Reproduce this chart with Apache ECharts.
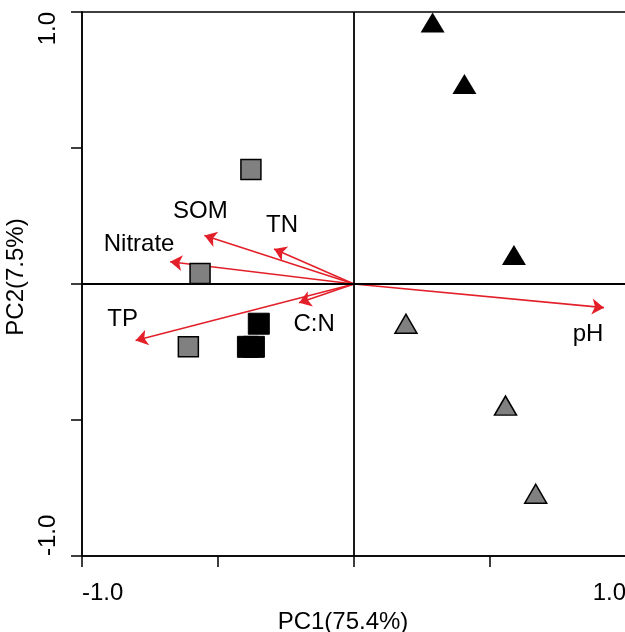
<!DOCTYPE html>
<html>
<head>
<meta charset="utf-8">
<script src="https://cdn.jsdelivr.net/npm/echarts@6/dist/echarts.min.js"></script>
<style>html,body{margin:0;padding:0;background:#fff;}#c{width:625px;height:632px;}</style>
</head>
<body>
<div id="c"></div>
<script>
// ---- data ----
const blackTriangles = [[0.289, 0.961], [0.406, 0.735], [0.588, 0.107]];
const grayTriangles = [[0.191, -0.146], [0.557, -0.447], [0.668, -0.771]];
const graySquares = [[-0.379, 0.421], [-0.566, 0.039], [-0.609, -0.231]];
const blackSquares = [[-0.350, -0.146], [-0.390, -0.231], [-0.368, -0.231]];
const vectorNames = ['pH', 'SOM', 'TN', 'Nitrate', 'C:N', 'TP'];
const vectorPC1 = [0.919, -0.550, -0.294, -0.676, -0.202, -0.803];
const vectorPC2 = [-0.087, 0.178, 0.129, 0.082, -0.069, -0.208];
const xTickLabels = ['-1.0', '1.0'];
const yTickLabels = ['-1.0', '1.0'];
const xTitle = 'PC1(75.4%)';
const yTitle = 'PC2(7.5%)';

// ---- styles ----
const FONT = '"Liberation Sans", Arial, sans-serif';
const RED = '#e3202a';
const TXT = '#000';
const labelOffsets = {pH: [-16, 27], SOM: [-4, -24], TN: [8, -24], Nitrate: [-31, -17], 'C:N': [15, 22], TP: [-13, -21]};

const chart = echarts.init(document.getElementById('c'), null, {renderer: 'canvas'});

function tickFmt(labels) {
  return function (v) {
    const s = v.toFixed(1);
    return labels.indexOf(s) >= 0 ? s : '';
  };
}

const axisCommon = {
  type: 'value', min: -1, max: 1, interval: 0.5,
  axisLine: {show: true, onZero: false, lineStyle: {color: '#000', width: 1.5}},
  axisTick: {show: true, length: 11, inside: false, lineStyle: {color: '#000', width: 1.5}},
  splitLine: {show: false}
};

const vectorLines = vectorNames.map((n, i) => ({name: n, coords: [[0, 0], [vectorPC1[i], vectorPC2[i]]]}));
const vectorTips = vectorNames.map((n, i) => ({
  name: n, value: [vectorPC1[i], vectorPC2[i]],
  label: {offset: labelOffsets[n]}
}));

chart.setOption({
  animation: false,
  backgroundColor: '#fff',
  grid: {left: 82, top: 12, width: 544, height: 544, containLabel: false, outerBoundsMode: 'none',
    show: true, borderColor: '#000', borderWidth: 1.5, backgroundColor: 'transparent'},
  xAxis: Object.assign({}, axisCommon, {
    position: 'bottom',
    name: xTitle, nameLocation: 'middle', nameGap: 44,
    nameTextStyle: {fontFamily: FONT, fontSize: 24, color: TXT, padding: [0, 22, 0, 0]},
    axisLabel: {formatter: tickFmt(xTickLabels), fontFamily: FONT, fontSize: 24, color: TXT, margin: 25,
      alignMinLabel: 'left', alignMaxLabel: 'right'}
  }),
  yAxis: Object.assign({}, axisCommon, {
    position: 'left',
    name: yTitle, nameLocation: 'middle', nameGap: 47,
    nameTextStyle: {fontFamily: FONT, fontSize: 24, color: TXT, padding: [0, 0, 0, 14]},
    axisLabel: {formatter: tickFmt(yTickLabels), fontFamily: FONT, fontSize: 24, color: TXT, margin: 22, rotate: 90,
      alignMinLabel: 'left', alignMaxLabel: 'right'}
  }),
  series: [
    {
      type: 'lines', coordinateSystem: 'cartesian2d', z: 3,
      symbol: ['none', 'arrow'], symbolSize: [9, 12],
      lineStyle: {color: RED, width: 1.6, opacity: 1},
      data: vectorLines,
      markLine: {
        silent: true, symbol: ['none', 'none'], label: {show: false},
        lineStyle: {color: '#000', width: 1.8, type: 'solid', opacity: 1},
        data: [{xAxis: 0}, {yAxis: 0}]
      }
    },
    {
      type: 'scatter', z: 4, symbolSize: 0, silent: true,
      itemStyle: {opacity: 1},
      label: {show: true, position: 'inside', formatter: '{b}', fontFamily: FONT, fontSize: 24, color: TXT, opacity: 1},
      data: vectorTips
    },
    {
      type: 'scatter', z: 5, symbol: 'rect', symbolSize: 20,
      itemStyle: {color: '#808080', borderColor: '#000', borderWidth: 1.5, opacity: 1},
      data: graySquares
    },
    {
      type: 'scatter', z: 5, symbol: 'rect', symbolSize: 21,
      itemStyle: {color: '#000', borderColor: '#000', borderWidth: 1, opacity: 1},
      data: blackSquares
    },
    {
      type: 'scatter', z: 5, symbol: 'triangle', symbolSize: [22, 19],
      itemStyle: {color: '#808080', borderColor: '#000', borderWidth: 1.5, opacity: 1},
      data: grayTriangles
    },
    {
      type: 'scatter', z: 5, symbol: 'triangle', symbolSize: [24, 20],
      itemStyle: {color: '#000', opacity: 1},
      data: blackTriangles
    }
  ]
});
</script>
</body>
</html>
